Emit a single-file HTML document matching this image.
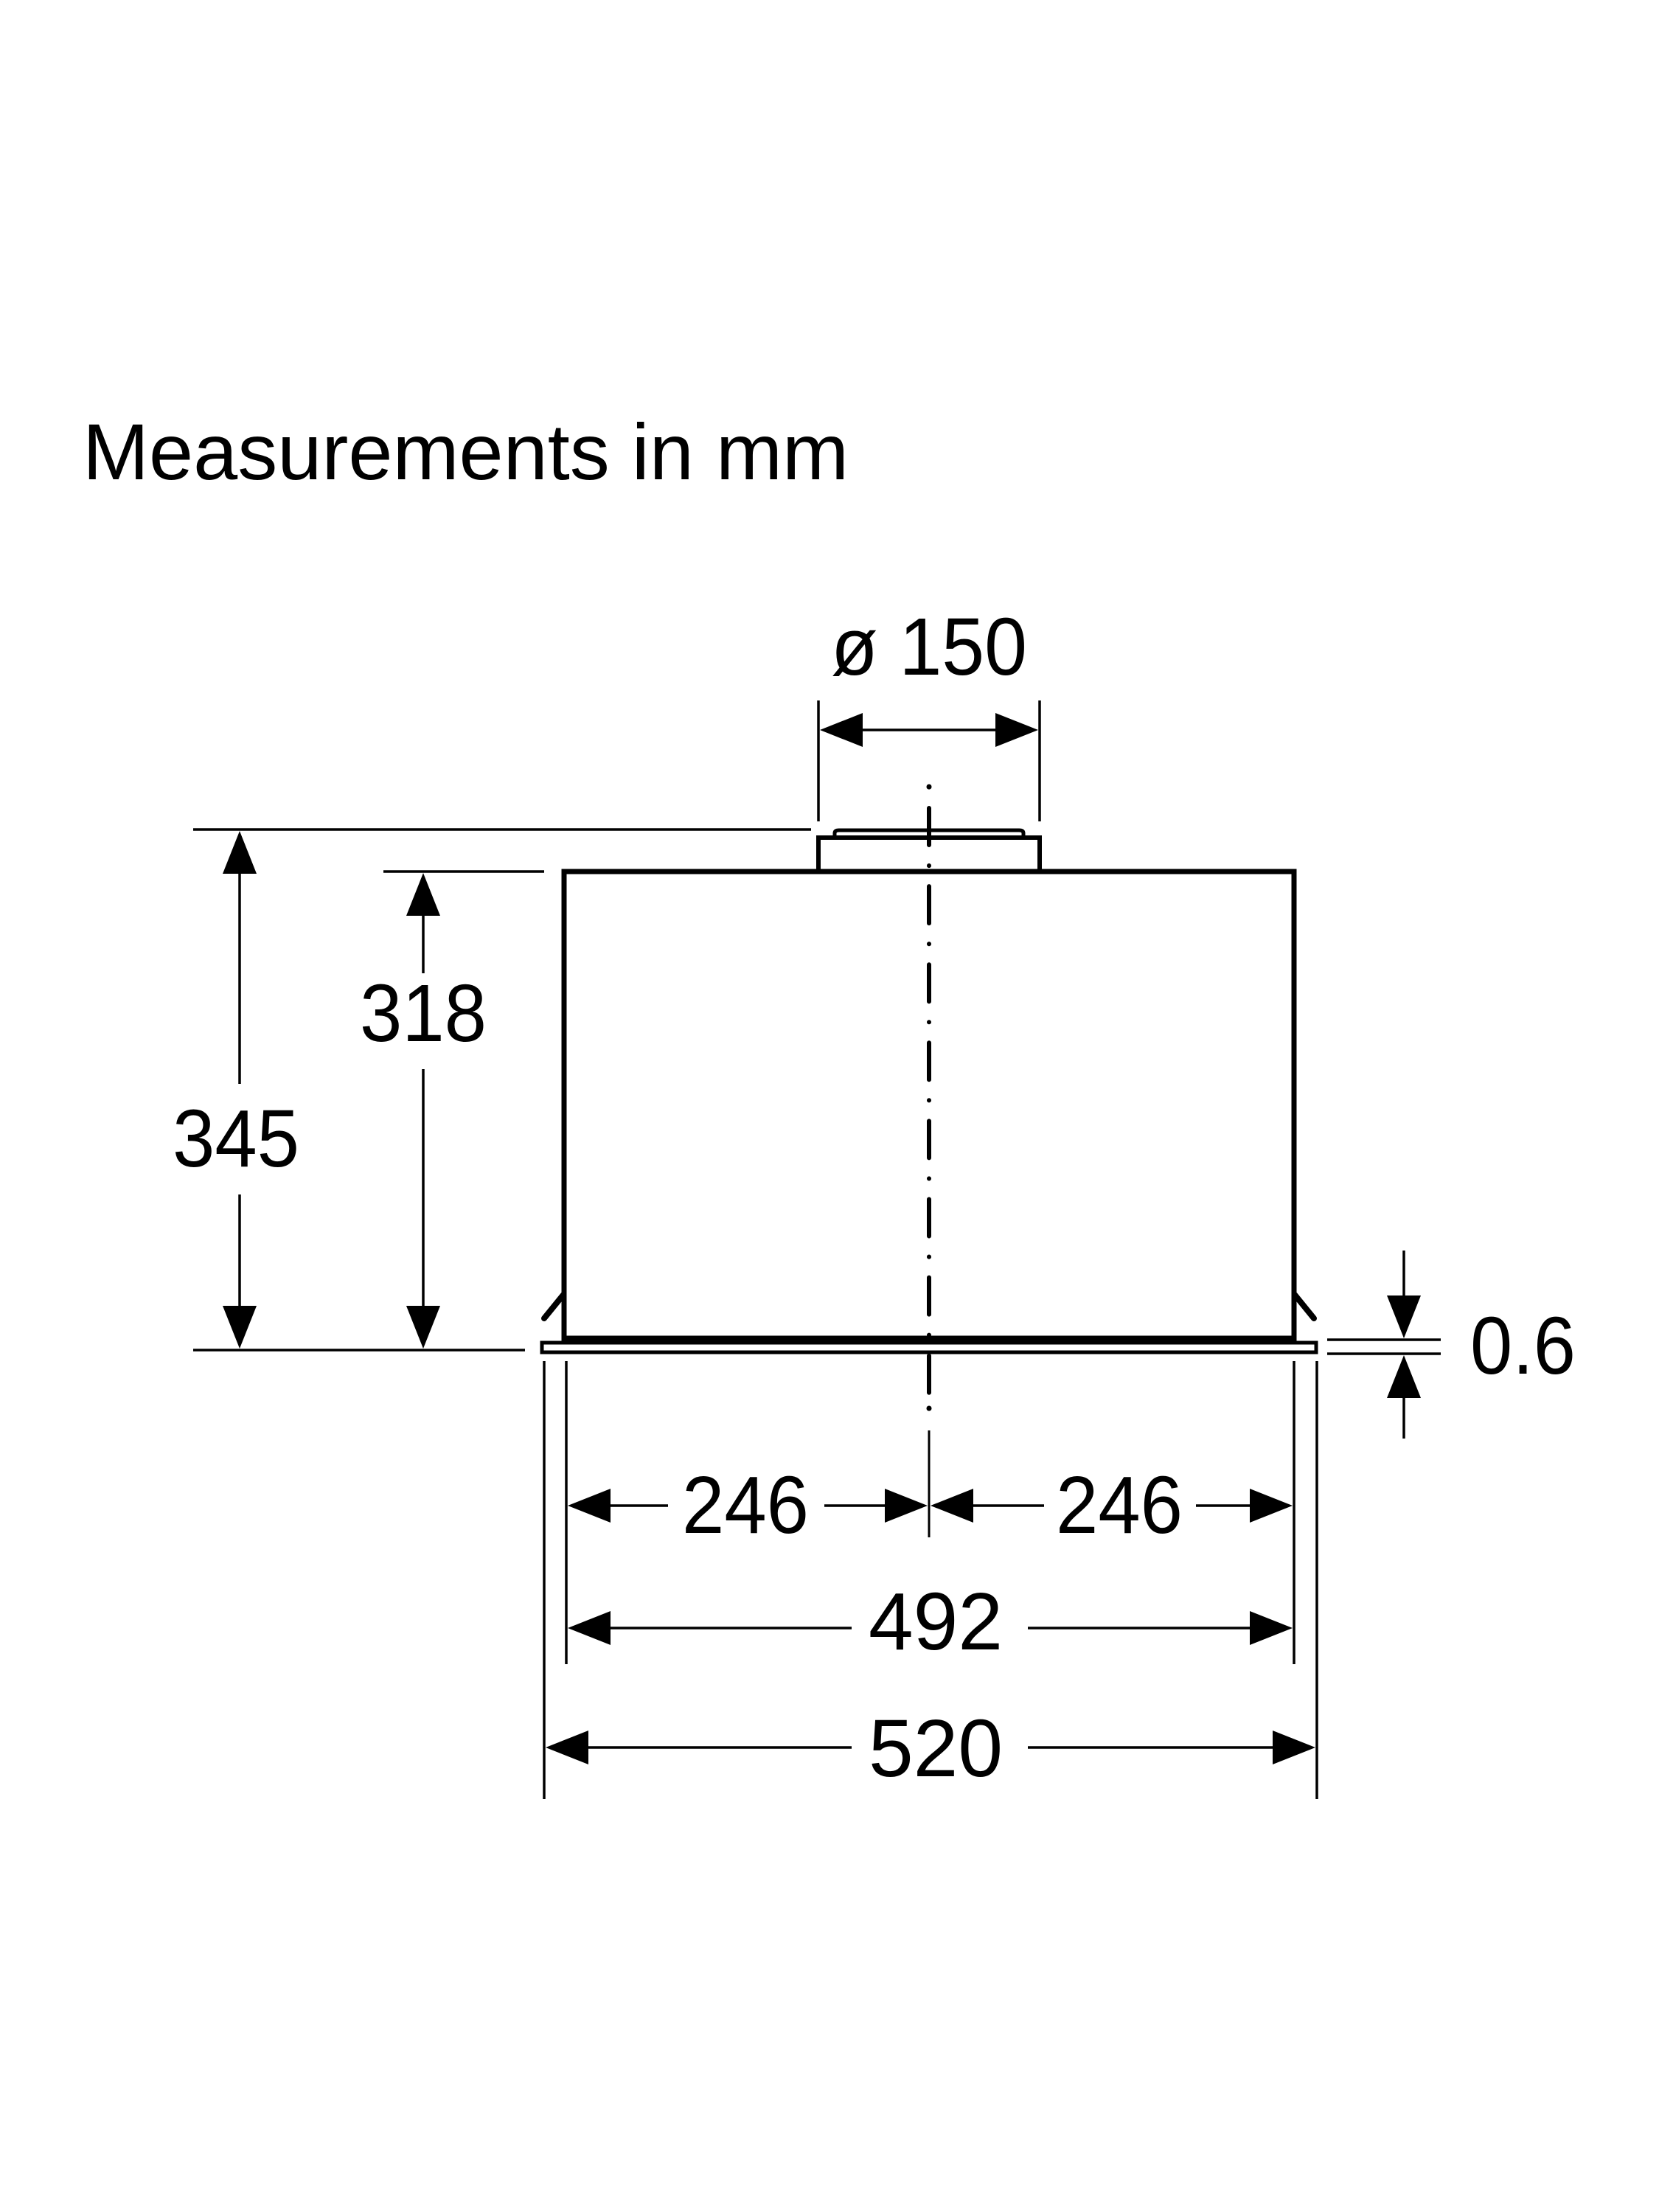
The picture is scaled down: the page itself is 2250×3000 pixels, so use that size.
<!DOCTYPE html>
<html><head><meta charset="utf-8"><style>html,body{margin:0;padding:0;background:#fff}svg{display:block}</style></head>
<body>
<svg width="2250" height="3000" viewBox="0 0 2250 3000" xmlns="http://www.w3.org/2000/svg">
<rect width="2250" height="3000" fill="#fff"/>
<g font-family="Liberation Sans, Arial, sans-serif" fill="#000">
<text x="112" y="650" font-size="108" textLength="1039" lengthAdjust="spacingAndGlyphs">Measurements in mm</text>
<text x="1127" y="915" font-size="110" textLength="266" lengthAdjust="spacingAndGlyphs">ø 150</text>
<text x="234" y="1582" font-size="110" textLength="172" lengthAdjust="spacingAndGlyphs">345</text>
<text x="488" y="1412" font-size="110" textLength="172" lengthAdjust="spacingAndGlyphs">318</text>
<text x="1994" y="1863" font-size="110" textLength="143" lengthAdjust="spacingAndGlyphs">0.6</text>
<text x="925" y="2079" font-size="110" textLength="172" lengthAdjust="spacingAndGlyphs">246</text>
<text x="1432" y="2079" font-size="110" textLength="172" lengthAdjust="spacingAndGlyphs">246</text>
<text x="1178" y="2237" font-size="110" textLength="182" lengthAdjust="spacingAndGlyphs">492</text>
<text x="1178" y="2409" font-size="110" textLength="182" lengthAdjust="spacingAndGlyphs">520</text>
</g>
<g stroke="#000" fill="none">
<rect x="765" y="1182" width="990" height="634" stroke-width="7"/>
<line x1="765" y1="1816" x2="1755" y2="1816" stroke-width="9"/>
<rect x="735" y="1821" width="1050" height="13" stroke-width="5"/>
<polyline points="1110,1182 1110,1136 1410,1136 1410,1182" stroke-width="6"/>
<path d="M1132,1136 L1132,1130 Q1132,1126 1138,1126 L1382,1126 Q1388,1126 1388,1130 L1388,1136" stroke-width="5"/>
<line x1="764" y1="1756" x2="738" y2="1788" stroke-width="8" stroke-linecap="round"/>
<line x1="1756" y1="1756" x2="1782" y2="1788" stroke-width="8" stroke-linecap="round"/>
<line x1="1260" y1="1096" x2="1260" y2="1890" stroke-width="6" stroke-linecap="round" stroke-dasharray="50 28 0.1 28"/>
<line x1="1260" y1="1067" x2="1260" y2="1067.1" stroke-width="7" stroke-linecap="round"/>
<line x1="1260" y1="1910" x2="1260" y2="1910.1" stroke-width="7" stroke-linecap="round"/>
<line x1="1260" y1="1940" x2="1260" y2="2085" stroke-width="3"/>
<g stroke-width="3.5">
<line x1="1110" y1="950" x2="1110" y2="1114"/>
<line x1="1410" y1="950" x2="1410" y2="1114"/>
<line x1="262" y1="1125" x2="1100" y2="1125"/>
<line x1="520" y1="1182" x2="738" y2="1182"/>
<line x1="262" y1="1831" x2="712" y2="1831"/>
<line x1="738" y1="1846" x2="738" y2="2440"/>
<line x1="1786" y1="1846" x2="1786" y2="2440"/>
<line x1="768" y1="1846" x2="768" y2="2257"/>
<line x1="1755" y1="1846" x2="1755" y2="2257"/>
<line x1="1800" y1="1817" x2="1954" y2="1817"/>
<line x1="1800" y1="1836" x2="1954" y2="1836"/>
<line x1="1165" y1="990" x2="1355" y2="990"/>
<line x1="325" y1="1180" x2="325" y2="1470"/>
<line x1="325" y1="1620" x2="325" y2="1776"/>
<line x1="574" y1="1237" x2="574" y2="1320"/>
<line x1="574" y1="1450" x2="574" y2="1776"/>
<line x1="1904" y1="1696" x2="1904" y2="1760"/>
<line x1="1904" y1="1893" x2="1904" y2="1951"/>
<line x1="825" y1="2042" x2="906" y2="2042"/>
<line x1="1118" y1="2042" x2="1205" y2="2042"/>
<line x1="1315" y1="2042" x2="1416" y2="2042"/>
<line x1="1622" y1="2042" x2="1698" y2="2042"/>
<line x1="825" y1="2208" x2="1155" y2="2208"/>
<line x1="1394" y1="2208" x2="1698" y2="2208"/>
<line x1="795" y1="2370" x2="1155" y2="2370"/>
<line x1="1394" y1="2370" x2="1729" y2="2370"/>
</g>
</g>
<g fill="#000">
<polygon points="1112,990 1170,967 1170,1013"/>
<polygon points="1408,990 1350,967 1350,1013"/>
<polygon points="325,1127 302,1185 348,1185"/>
<polygon points="325,1829 302,1771 348,1771"/>
<polygon points="574,1184 551,1242 597,1242"/>
<polygon points="574,1829 551,1771 597,1771"/>
<polygon points="1904,1815 1881,1757 1927,1757"/>
<polygon points="1904,1838 1881,1896 1927,1896"/>
<polygon points="770,2042 828,2019 828,2065"/>
<polygon points="1258,2042 1200,2019 1200,2065"/>
<polygon points="1262,2042 1320,2019 1320,2065"/>
<polygon points="1753,2042 1695,2019 1695,2065"/>
<polygon points="770,2208 828,2185 828,2231"/>
<polygon points="1753,2208 1695,2185 1695,2231"/>
<polygon points="740,2370 798,2347 798,2393"/>
<polygon points="1784,2370 1726,2347 1726,2393"/>
</g>
</svg>
</body></html>
